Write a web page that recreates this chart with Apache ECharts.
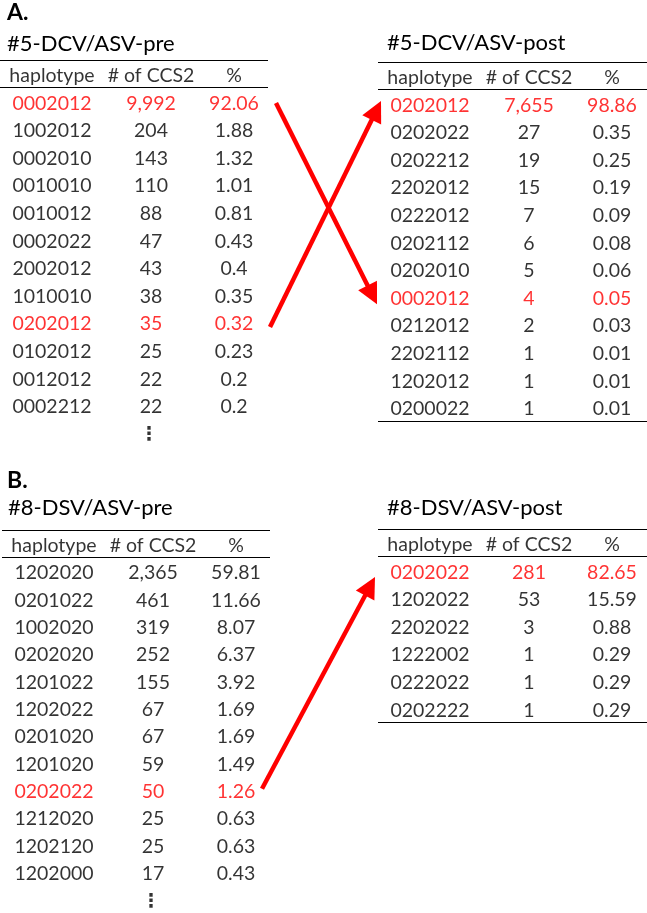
<!DOCTYPE html>
<html>
<head>
<meta charset="utf-8">
<script src="https://cdn.jsdelivr.net/npm/echarts@6/dist/echarts.min.js"></script>
<style>html,body{margin:0;padding:0;background:#fff;}#c{width:647px;height:913px;}</style>
</head>
<body>
<div id="c"></div>
<script>
// ---------- data ----------
const headers = ['haplotype', '# of CCS2', '%'];

const preA_title = '#5-DCV/ASV-pre';
const preA_hap = ['0002012','1002012','0002010','0010010','0010012','0002022','2002012','1010010','0202012','0102012','0012012','0002212'];
const preA_cnt = [9992,204,143,110,88,47,43,38,35,25,22,22];
const preA_pct = [92.06,1.88,1.32,1.01,0.81,0.43,0.4,0.35,0.32,0.23,0.2,0.2];
const preA_red = [0, 8];

const postA_title = '#5-DCV/ASV-post';
const postA_hap = ['0202012','0202022','0202212','2202012','0222012','0202112','0202010','0002012','0212012','2202112','1202012','0200022'];
const postA_cnt = [7655,27,19,15,7,6,5,4,2,1,1,1];
const postA_pct = [98.86,0.35,0.25,0.19,0.09,0.08,0.06,0.05,0.03,0.01,0.01,0.01];
const postA_red = [0, 7];

const preB_title = '#8-DSV/ASV-pre';
const preB_hap = ['1202020','0201022','1002020','0202020','1201022','1202022','0201020','1201020','0202022','1212020','1202120','1202000'];
const preB_cnt = [2365,461,319,252,155,67,67,59,50,25,25,17];
const preB_pct = [59.81,11.66,8.07,6.37,3.92,1.69,1.69,1.49,1.26,0.63,0.63,0.43];
const preB_red = [8];

const postB_title = '#8-DSV/ASV-post';
const postB_hap = ['0202022','1202022','2202022','1222002','0222022','0202222'];
const postB_cnt = [281,53,3,1,1,1];
const postB_pct = [82.65,15.59,0.88,0.29,0.29,0.29];
const postB_red = [0];

// arrows: from table/row to table/row
const arrows = [
  {from: [0, 0], to: [1, 7]},
  {from: [0, 8], to: [1, 0]},
  {from: [2, 8], to: [3, 0]}
];

// ---------- layout / style ----------
const FONT = 'Lato';
const RED = '#ff0000';
const ROW = 27.6;
const TEXT_DY = 0.07;
const colX = [52, 151, 234];
const tables = [
  {title: preA_title,  hap: preA_hap,  cnt: preA_cnt,  pct: preA_pct,  red: preA_red,  left: 0,   width: 268, top: 60,  more: true,  tx: 7,   ty: 33},
  {title: postA_title, hap: postA_hap, cnt: postA_cnt, pct: postA_pct, red: postA_red, left: 378, width: 269, top: 62,  more: false, tx: 387, ty: 32},
  {title: preB_title,  hap: preB_hap,  cnt: preB_cnt,  pct: preB_pct,  red: preB_red,  left: 2,   width: 268, top: 530, more: true,  tx: 8,   ty: 497},
  {title: postB_title, hap: postB_hap, cnt: postB_cnt, pct: postB_pct, red: postB_red, left: 378, width: 269, top: 529, more: false, tx: 387, ty: 497}
];
// arrow endpoint offsets (x in grid px units, y in rows)
const arrowGeom = [
  {sx: 276, sy: 0.06, ex: -1, ey: 0.28},
  {sx: 270, sy: 0.17, ex: 3, ey: -0.09},
  {sx: 260, sy: -0.04, ex: -3, ey: 0.24}
];

const fmtCnt = v => v.toLocaleString('en-US');

const grids = [], xAxes = [], yAxes = [], series = [], titles = [];
tables.forEach((t, k) => {
  const nRows = t.hap.length + 1 + (t.more ? 1 : 0);
  grids.push({left: t.left, top: t.top, width: t.width, height: nRows * ROW});
  xAxes.push({type: 'value', gridIndex: k, min: 0, max: t.width, show: false});
  yAxes.push({type: 'value', gridIndex: k, min: 0, max: nRows, inverse: true, show: false});
  const data = [];
  headers.forEach((h, j) => data.push({value: [colX[j], 0.5 + TEXT_DY, h]}));
  t.hap.forEach((h, i) => {
    const red = t.red.indexOf(i) >= 0;
    const texts = [h, fmtCnt(t.cnt[i]), String(t.pct[i])];
    texts.forEach((s, j) => data.push({value: [colX[j], i + 1.5 + TEXT_DY, s], label: {color: red ? RED : '#000'}}));
  });
  const lines = [{yAxis: 0}, {yAxis: 1}];
  if (!t.more) lines.push({yAxis: t.hap.length + 1});
  series.push({
    type: 'scatter', xAxisIndex: k, yAxisIndex: k, symbolSize: 0, silent: true, animation: false,
    data: data,
    label: {show: true, position: 'inside', formatter: p => p.value[2], color: '#000', fontFamily: FONT, fontSize: 19.5},
    markLine: {silent: true, symbol: ['none', 'none'], animation: false, label: {show: false},
      lineStyle: {color: '#000', width: 1, type: 'solid'}, data: lines}
  });
  if (t.more) {
    series.push({
      type: 'scatter', xAxisIndex: k, yAxisIndex: k, symbolSize: 0, silent: true, animation: false,
      data: [[colX[1] - 2, t.hap.length + 1.6]],
      label: {show: true, position: 'inside', formatter: '\u22EE', color: '#000', fontFamily: 'DejaVu Sans', fontWeight: 'bold', fontSize: 19}
    });
  }
  titles.push({text: t.title, left: t.tx, top: t.ty, padding: 0,
    textStyle: {fontFamily: FONT, fontSize: 22, fontWeight: 'normal', color: '#000'}});
});
titles.push({text: 'A.', left: 7, top: 1, padding: 0, textStyle: {fontFamily: FONT, fontSize: 23, fontWeight: 'bold', color: '#000'}});
titles.push({text: 'B.', left: 7, top: 469, padding: 0, textStyle: {fontFamily: FONT, fontSize: 23, fontWeight: 'bold', color: '#000'}});

const chart = echarts.init(document.getElementById('c'), null, {renderer: 'canvas'});
chart.setOption({
  backgroundColor: '#fff',
  animation: false,
  title: titles,
  grid: grids,
  xAxis: xAxes,
  yAxis: yAxes,
  series: series
});

// arrows computed from the table cells through the grids' scales
const graphics = [];
arrows.forEach((a, n) => {
  const g = arrowGeom[n];
  const p0 = chart.convertToPixel({gridIndex: a.from[0]}, [g.sx, a.from[1] + 1.5 + g.sy]);
  const p1 = chart.convertToPixel({gridIndex: a.to[0]}, [g.ex, a.to[1] + 1.5 + g.ey]);
  const dx = p1[0] - p0[0], dy = p1[1] - p0[1];
  const len = Math.sqrt(dx * dx + dy * dy);
  const ux = dx / len, uy = dy / len;
  const headL = 21, headW = 10.5;
  const bx = p1[0] - ux * headL, by = p1[1] - uy * headL;
  graphics.push({type: 'line', silent: true, z: 100,
    shape: {x1: p0[0], y1: p0[1], x2: bx + ux * 2, y2: by + uy * 2},
    style: {stroke: RED, lineWidth: 4.5, lineCap: 'butt'}});
  graphics.push({type: 'polygon', silent: true, z: 100,
    shape: {points: [[p1[0], p1[1]], [bx - uy * headW, by + ux * headW], [bx + uy * headW, by - ux * headW]]},
    style: {fill: RED}});
});
chart.setOption({graphic: graphics});
</script>
</body>
</html>
